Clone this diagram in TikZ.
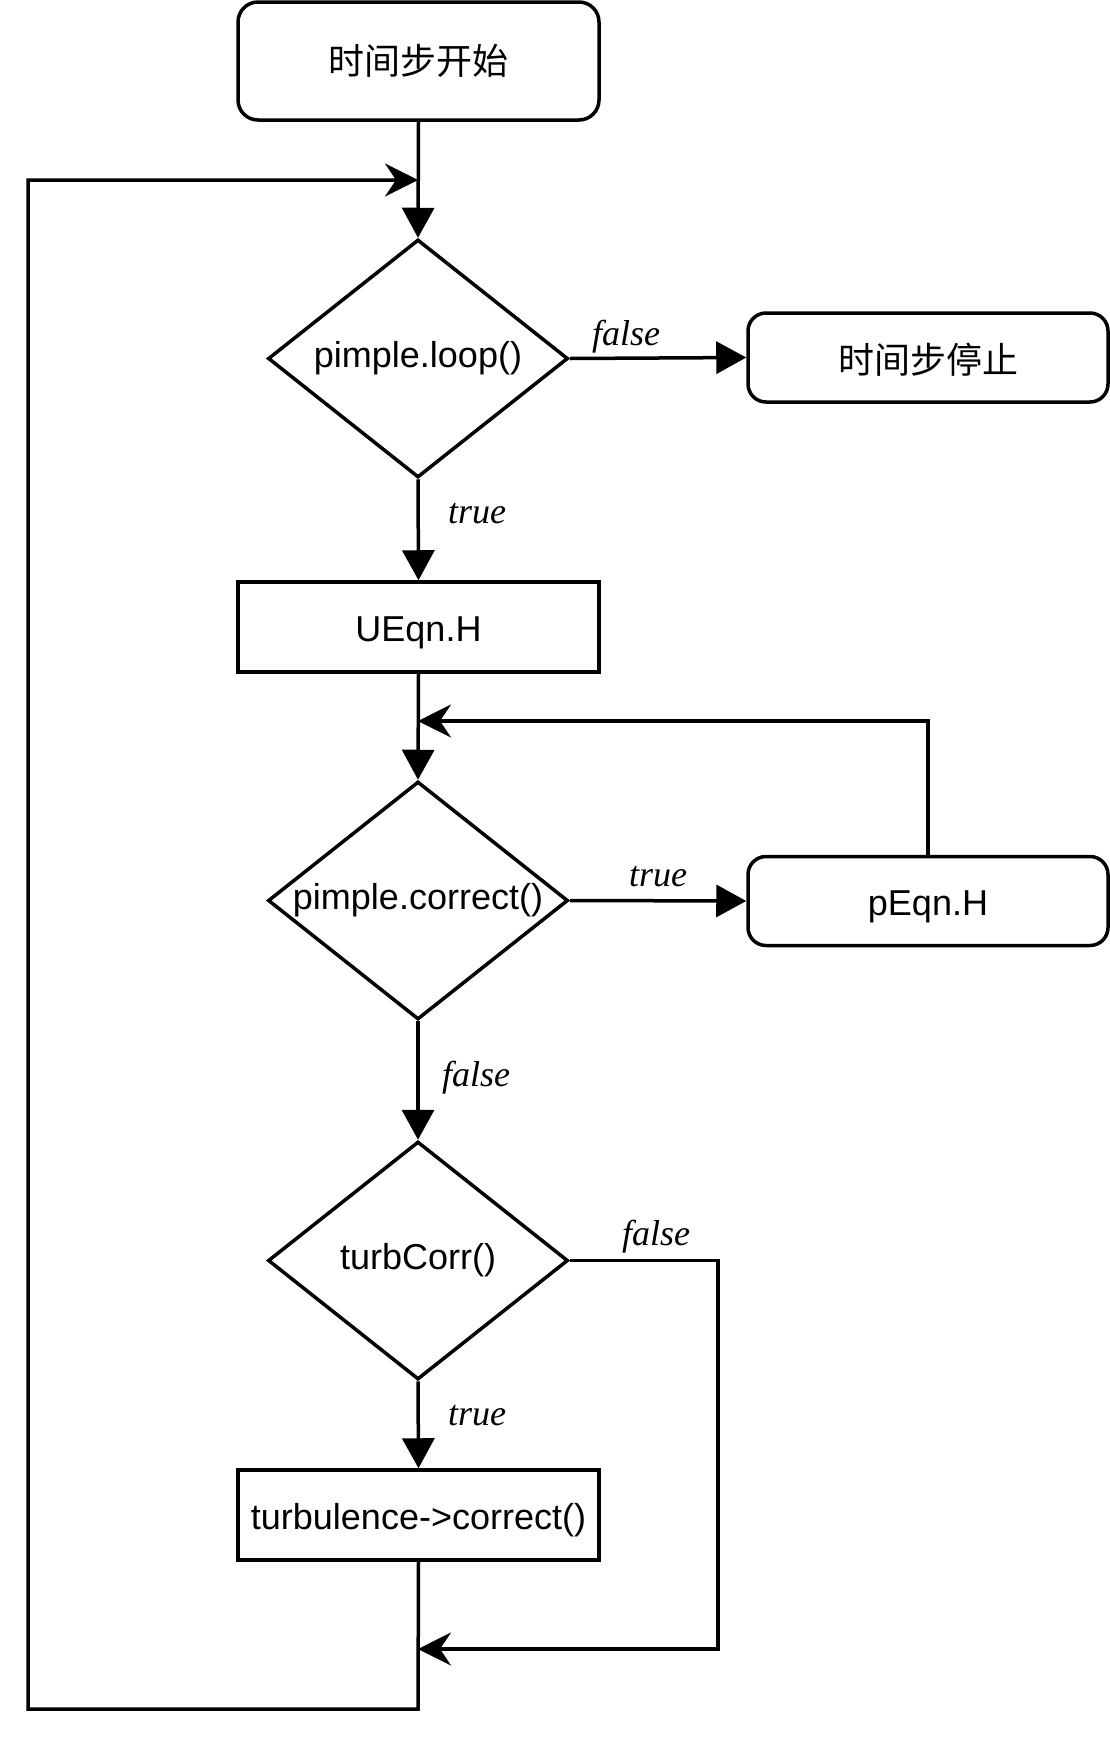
\documentclass[tikz,border=0pt]{standalone}
\usepackage{fontspec}
\setmainfont{Liberation Sans}
\newfontfamily\cjk{Noto Sans CJK SC}
\newfontfamily\labfont{Liberation Serif}
\usetikzlibrary{arrows.meta,shapes.geometric}
\newcommand{\dn}[2]{\raisebox{-#1}[\height][\depth]{#2}}
\begin{document}
\begin{tikzpicture}[x=1pt,y=-1pt,
  line width=3.5pt,
  every node/.style={font=\fontsize{36}{42}\selectfont},
  rbox/.style={draw,rounded corners=20pt,minimum width=361pt,minimum height=118pt,inner sep=0pt},
  sbox/.style={draw,rounded corners=18pt,minimum width=360pt,minimum height=89pt,inner sep=0pt},
  pbox/.style={draw,minimum width=361pt,minimum height=90pt,inner sep=0pt},
  dec/.style={draw,diamond,minimum width=300pt,minimum height=238pt,inner sep=0pt},
  lbl/.style={font=\labfont\itshape\fontsize{36}{42}\selectfont,inner sep=0pt},
  arr/.style={-{Triangle[length=30pt,width=32pt]}},
  back/.style={-{Stealth[length=33pt,width=33pt,inset=11pt]}}
]
\useasboundingbox (0,0) rectangle (1110,1743);
\node[rbox] (start) at (418.5,61) {\cjk 时间步开始};
\node[dec] (d1) at (418,358.5) {\makebox[0pt]{\raisebox{4pt}{pimple.loop()}}};
\node[sbox] (stop) at (928,357.5) {\dn{2pt}{\cjk 时间步停止}};
\node[pbox] (ueqn) at (418.5,627) {\dn{5.5pt}{UEqn.H}};
\node[dec] (d2) at (418,900.5) {\makebox[0pt]{\raisebox{4pt}{pimple.correct()}}};
\node[sbox] (peqn) at (928,901) {\dn{5.5pt}{pEqn.H}};
\node[dec] (d3) at (418,1260.5) {\makebox[0pt]{\raisebox{4pt}{turbCorr()}}};
\node[pbox] (turb) at (418.5,1515) {\dn{5.5pt}{turbulence->correct()}};

\coordinate (j1) at (418,180);
\coordinate (j2) at (418,721);
\coordinate (j3) at (418,1649);
\coordinate (bl) at (28,1709);
\coordinate (tl) at (28,180);
\coordinate (br) at (418,1709);
\coordinate (pr) at (928,721);
\coordinate (r1) at (718,1260.5);
\coordinate (r2) at (718,1649);

\draw[arr] (start.south) -- (d1.north);
\draw[arr] (d1.east) -- (stop.west);
\draw[arr] (d1.south) -- (ueqn.north);
\draw[arr] (ueqn.south) -- (d2.north);
\draw[arr] (d2.east) -- (peqn.west);
\draw[back] (peqn.north) -- (pr) -- (j2);
\draw[arr] (d2.south) -- (d3.north);
\draw[arr] (d3.south) -- (turb.north);
\draw[back] (d3.east) -- (r1) -- (r2) -- (j3);
\draw[back] (turb.south) -- (br) -- (bl) -- (tl) -- (j1);

\node[lbl] (l1) at (626,336.5) {false};
\node[lbl] (l2) at (477,513.5) {true};
\node[lbl] (l3) at (658,876.5) {true};
\node[lbl] (l4) at (476,1077.5) {false};
\node[lbl] (l5) at (656,1236.5) {false};
\node[lbl] (l6) at (477,1415.5) {true};
\end{tikzpicture}
\end{document}
